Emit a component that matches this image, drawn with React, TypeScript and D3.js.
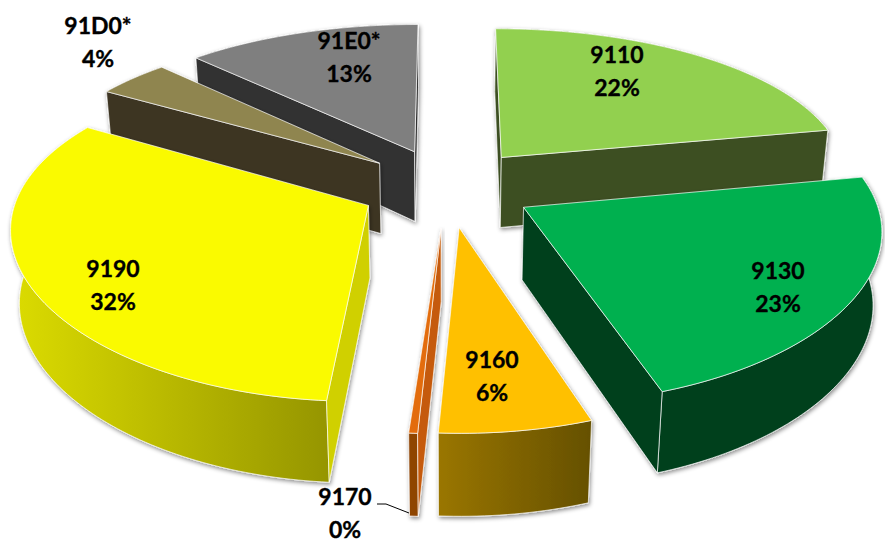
import React from "react";
import * as d3 from "d3";

const codes = ["9110", "9130", "9160", "9170", "9190", "91D0*", "91E0*"];
const shares = [22.05, 22.9, 6.1, 0.35, 32.49, 3.95, 12.5];
const topColors = ["#92d050", "#00b050", "#ffc000", "#e36c09", "#fafa00", "#8f8550", "#7f7f7f"];
const sideColors = ["#3d5021", "#03401f", "#7a5c00", "#c55a08", "#d0d000", "#3d3523", "#333333"];
const rimLight = ["#3d5021", "#03401f", "#9a7600", "#8f4505", "#dcdc00", "#3d3523", "#333333"];
const rimDark = ["#3d5021", "#03401f", "#655000", "#8f4505", "#959500", "#3d3523", "#333333"];
const drawOrder = [6, 5, 0, 4, 1, 2, 3];

// Label centres on the page, one per slice.
const labelX = [617, 778, 492, 345, 113, 98, 349];
const labelY = [71, 287, 376, 513, 285, 42, 57];

const WIDTH = 885;
const HEIGHT = 542;
const cx = 447;
const cy = 187;
const Rx = 349;
const Ry = 158;
const depth = 73;
const perspectiveX = 0.12;
const perspectiveY = 0.16;
const sink = 0.02;
const explode = 0.25;

type P = [number, number];

const project = (x: number, y: number, z: number): P => {
  const sx = 1 / (1 + perspectiveX * y + sink * z);
  const sy = 1 / (1 + perspectiveY * y + sink * z);
  return [cx + Rx * x * sx, cy - Ry * y * sy + depth * z * sy];
};

const toPath = d3.line<P>();

const arcs = d3.pie<number>().sort(null).value((d) => d)(shares);

function buildSlice(i: number) {
  const a = arcs[i];
  const mid = (a.startAngle + a.endAngle) / 2;
  const ox = explode * Math.sin(mid);
  const oy = explode * Math.cos(mid);
  const n = Math.max(2, Math.ceil((a.endAngle - a.startAngle) / 0.02));
  const angles = d3.range(n + 1).map((k) => a.startAngle + ((a.endAngle - a.startAngle) * k) / n);
  const rim = (z: number) =>
    angles.map((t) => project(ox + Math.sin(t), oy + Math.cos(t), z));
  const apex = (z: number) => project(ox, oy, z);
  const topRim = rim(0);
  const botRim = rim(1);
  const top = [apex(0), ...topRim];
  const outer = [...topRim, ...[...botRim].reverse()];
  const first = [apex(0), topRim[0], botRim[0], apex(1)];
  const last = [apex(0), topRim[n], botRim[n], apex(1)];
  const xs = outer.map((p) => p[0]);
  return { top, outer, first, last, x0: d3.min(xs)!, x1: d3.max(xs)! };
}

const winding = (pts: P[]) => d3.polygonArea(pts) > 0;

export default function App() {
  return (
    <svg
      width={WIDTH}
      height={HEIGHT}
      style={{ position: "absolute", left: 0, top: 0, background: "#fff" }}
    >
      <defs>
        <filter id="shade" x="-10%" y="-10%" width="120%" height="120%">
          <feDropShadow dx="1" dy="2" stdDeviation="2" floodColor="#000" floodOpacity="0.45" />
        </filter>
        {codes.map((c, i) => {
          const g = buildSlice(i);
          return (
            <linearGradient
              key={c}
              id={`rim${i}`}
              gradientUnits="userSpaceOnUse"
              x1={g.x0}
              x2={g.x1}
              y1={0}
              y2={0}
            >
              <stop offset="0" stopColor={rimLight[i]} />
              <stop offset="1" stopColor={rimDark[i]} />
            </linearGradient>
          );
        })}
      </defs>
      {drawOrder.map((i) => {
        const g = buildSlice(i);
        const edge = { stroke: "#fff", strokeOpacity: 0.75, strokeWidth: 0.9, strokeLinejoin: "round" as const };
        return (
          <g key={codes[i]} filter="url(#shade)">
            <path d={toPath(g.outer)! + "Z"} fill={`url(#rim${i})`} {...edge} />
            {winding(g.first) ? <path d={toPath(g.first)! + "Z"} fill={sideColors[i]} {...edge} /> : null}
            {winding(g.last) ? null : <path d={toPath(g.last)! + "Z"} fill={sideColors[i]} {...edge} />}
            <path d={toPath(g.top)! + "Z"} fill={topColors[i]} {...edge} />
          </g>
        );
      })}
      <path d="M377,504 L386,504 L409,513" fill="none" stroke="#000" strokeWidth={1} />
      {codes.map((c, i) => (
        <text
          key={c}
          x={labelX[i]}
          y={labelY[i]}
          textAnchor="middle"
          fontFamily="Lato, sans-serif"
          fontWeight={700}
          fontSize={23}
          fill="#000"
          stroke="#000"
          strokeWidth={0.35}
        >
          <tspan x={labelX[i]} dy={-8}>{c}</tspan>
          <tspan x={labelX[i]} dy={33}>{`${Math.round(shares[i])}%`}</tspan>
        </text>
      ))}
    </svg>
  );
}
